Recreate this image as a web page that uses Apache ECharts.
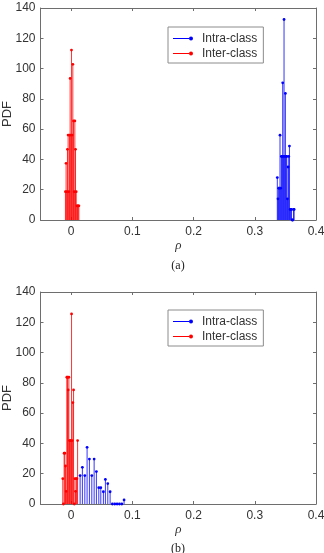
<!DOCTYPE html>
<html><head><meta charset="utf-8">
<script src="https://cdn.jsdelivr.net/npm/echarts@6/dist/echarts.min.js"></script>
<style>html,body{margin:0;padding:0;background:#fff}#c{width:324px;height:553px}</style>
</head><body><div id="c"></div>
<script>
// ---- data ----
const xTickValues = [0, 0.1, 0.2, 0.3, 0.4];
const yTickValues = [0, 20, 40, 60, 80, 100, 120, 140];

// (a) inter-class (red)
const interA_x = [-0.0093,-0.0082,-0.0071,-0.0060,-0.0049,-0.0038,-0.0027,-0.0016,-0.0005,0.0006,0.0017,0.0028,0.0039,0.0050,0.0061,0.0072,0.0083,0.0094,0.0105,0.0116,0.0127];
const interA_y = [18.7,37.4,18.7,46.7,56.1,18.7,56.1,93.5,56.1,112.2,56.1,102.8,65.4,18.7,65.4,46.7,18.7,9.35,9.35,9.35,9.35];
// (a) intra-class (blue)
const intraA_x = [0.3368,0.3379,0.3390,0.3401,0.3412,0.3423,0.3434,0.3445,0.3456,0.3467,0.3478,0.3489,0.3500,0.3511,0.3522,0.3533,0.3544,0.3555,0.3566,0.3577,0.3588,0.3599,0.3610,0.3621,0.3632,0.3643];
const intraA_y = [28,14,21,21,56,21,42,42,90.6,42,132.4,42,83.6,42,42,14,35,42,48.8,7,7,7,0,0,7,7];
// (b) inter-class (red)
const interB_x = [-0.0136,-0.0125,-0.0114,-0.0103,-0.0092,-0.0081,-0.0070,-0.0059,-0.0048,-0.0037,-0.0026,-0.0015,-0.0004,0.0007,0.0018,0.0029,0.0040,0.0051,0.0062,0.0073,0.0084,0.0095,0.0106];
const interB_y = [16.7,0,33.5,33.5,25.1,8.4,83.7,83.7,75.3,83.7,41.9,41.9,41.9,125.5,41.9,67,75.3,0,16.7,8.4,16.7,16.7,41.9];
// (b) intra-class (blue)
const intraB_x = [0.0147,0.0184,0.0224,0.0261,0.0299,0.0338,0.0376,0.0413,0.0452,0.0485,0.0527,0.0560,0.0599,0.0637,0.0674,0.0713,0.0751,0.0789,0.0828,0.0865];
const intraB_y = [18.8,24.2,18.8,37.4,29.7,18.8,29.7,21.4,10.8,10.8,8.1,16.2,13.5,8.1,0,0,0,0,0,2.7];

const BLUE = '#0000ff', RED = '#ff0000';
const AX = '#6e6e6e', TXT = '#333333';
const SANS = 'Liberation Sans';

function zip(xs, ys){ return xs.map((x,i)=>[x, ys[i]]); }

function stemRender(color){
  return function(params, api){
    const x = api.value(0), y = api.value(1);
    const p0 = api.coord([x, 0]), p1 = api.coord([x, y]);
    return {type:'group', children:[
      {type:'line', shape:{x1:p0[0], y1:p0[1], x2:p1[0], y2:p1[1]}, style:{stroke:color, lineWidth:0.8}},
      {type:'circle', shape:{cx:p1[0], cy:p1[1], r:1.4}, style:{fill:color}}
    ]};
  };
}

const grids = [
  {left:40.5, width:275.5, top:8, height:212, containLabel:false, outerBoundsMode:'none'},
  {left:40.5, width:275.5, top:292, height:212, containLabel:false, outerBoundsMode:'none'}
];

function xAxes(gi){
  const base = {type:'value', gridIndex:gi, min:-0.05, max:0.4,
    splitLine:{show:false},
    axisLine:{show:true, onZero:false, lineStyle:{color:AX, width:1}},
    axisTick:{show:true, inside:true, length:3, customValues:xTickValues, lineStyle:{color:AX}}};
  return [
    Object.assign({}, base, {position:'bottom',
      axisLabel:{show:true, customValues:xTickValues, margin:6, color:TXT, fontFamily:SANS, fontSize:12,
        formatter:v=> (Math.abs(v)<1e-9 ? '0' : String(+v.toFixed(2)))},
      name:'ρ', nameLocation:'middle', nameGap:19, nameMoveOverlap:false,
      nameTextStyle:{fontFamily:'Liberation Serif', fontStyle:'italic', fontSize:13, color:TXT}}),
    Object.assign({}, base, {position:'top', axisLabel:{show:false}})
  ];
}
function yAxes(gi){
  const base = {type:'value', gridIndex:gi, min:0, max:140, interval:20,
    splitLine:{show:false},
    axisLine:{show:true, onZero:false, lineStyle:{color:AX, width:1}},
    axisTick:{show:true, inside:true, length:3, lineStyle:{color:AX}}};
  return [
    Object.assign({}, base, {position:'left',
      axisLabel:{show:true, margin:5, color:TXT, fontFamily:SANS, fontSize:12},
      name:'PDF', nameLocation:'middle', nameGap:27, nameRotate:90, nameMoveOverlap:false,
      nameTextStyle:{fontFamily:SANS, fontSize:13, color:TXT}}),
    Object.assign({}, base, {position:'right', axisLabel:{show:false}})
  ];
}

const ICON = 'path://M0,2.6L16,2.6L16,3.4L0,3.4Z M16,3A2,2,0,1,0,20,3A2,2,0,1,0,16,3Z';
function legend(top){
  return {orient:'vertical', left:168, top:top, itemWidth:20, itemHeight:6, itemGap:0,
    padding:[4,6,2,5], borderColor:'#8c8c8c', borderWidth:1, backgroundColor:'#fff',
    selectedMode:false,
    textStyle:{fontFamily:SANS, fontSize:12, color:TXT, lineHeight:15, padding:[0,0,0,4]},
    data:[{name:'Intra-class', icon:ICON}, {name:'Inter-class', icon:ICON}]};
}

function stemSeries(name, color, xs, ys, gi){
  return {type:'custom', name:name, xAxisIndex:gi*2, yAxisIndex:gi*2,
    itemStyle:{color:color}, renderItem:stemRender(color), data:zip(xs, ys),
    encode:{x:0, y:1}, silent:true, animation:false};
}

const chart = echarts.init(document.getElementById('c'), null, {renderer:'canvas'});
chart.setOption({
  animation:false,
  backgroundColor:'#fff',
  grid:grids,
  xAxis:[...xAxes(0), ...xAxes(1)],
  yAxis:[...yAxes(0), ...yAxes(1)],
  legend:[legend(27), legend(310)],
  series:[
    stemSeries('Intra-class', BLUE, intraA_x, intraA_y, 0),
    stemSeries('Inter-class', RED, interA_x, interA_y, 0),
    stemSeries('Intra-class', BLUE, intraB_x, intraB_y, 1),
    stemSeries('Inter-class', RED, interB_x, interB_y, 1)
  ],
  graphic:[
    {type:'text', x:178, y:266, style:{text:'(a)', align:'center', verticalAlign:'middle', font:'12px "Liberation Serif"', fill:'#222'}},
    {type:'text', x:178, y:549, style:{text:'(b)', align:'center', verticalAlign:'middle', font:'12px "Liberation Serif"', fill:'#222'}}
  ]
});
</script></body></html>
